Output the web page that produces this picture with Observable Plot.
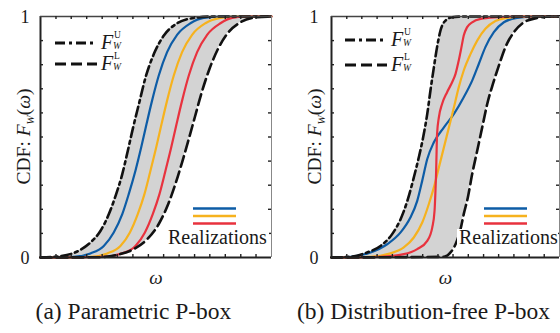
<!DOCTYPE html>
<html>
<head>
<meta charset="utf-8">
<script src="https://cdn.jsdelivr.net/npm/d3@7"></script>
<script src="https://cdn.jsdelivr.net/npm/@observablehq/plot@0.6"></script>
<style>
  html, body { margin: 0; padding: 0; background: #fff; }
  #wrap { position: relative; width: 560px; height: 333px; overflow: hidden; color: #1a1a1a;
          font-family: "Liberation Serif", "DejaVu Serif", Times, serif; }
  #wrap svg { position: absolute; top: 0; }
  .cap { position: absolute; top: 300px; font-size: 23.5px; line-height: 1; white-space: nowrap;
         transform: translateX(-50%); font-family: "Liberation Serif", "DejaVu Serif", Times, serif; }
</style>
</head>
<body>
<div id="wrap"></div>
<script>
// ---- Panel (a): parametric P-box (omega in arbitrary 0–10 units, CDF 0–1) ----
const aUpperW  = [0,0.87,1.59,2.16,2.60,2.96,3.25,3.54,3.78,4.01,4.26,4.55,4.91,5.34,5.92,6.64,7.50,10];
const aUpperF  = [0,0.006,0.025,0.062,0.111,0.180,0.256,0.346,0.443,0.540,0.637,0.748,0.845,0.921,0.972,0.994,1,1];
const aBlueW   = [0,1.44,2.16,2.74,3.17,3.54,3.82,4.11,4.36,4.59,4.83,5.12,5.48,5.92,6.49,7.07,8.00,10];
const aBlueF   = [0,0.003,0.017,0.048,0.104,0.180,0.263,0.360,0.457,0.554,0.651,0.755,0.852,0.925,0.972,0.994,1,1];
const aOrangeW = [0,2.16,2.89,3.46,3.87,4.21,4.50,4.76,5.01,5.24,5.48,5.77,6.13,6.57,7.14,7.79,8.50,10];
const aOrangeF = [0,0.003,0.017,0.048,0.104,0.180,0.263,0.360,0.457,0.554,0.651,0.755,0.852,0.925,0.972,0.994,1,1];
const aRedW    = [0,2.74,3.54,4.11,4.52,4.86,5.15,5.41,5.66,5.89,6.13,6.42,6.78,7.22,7.79,8.30,8.95,10];
const aRedF    = [0,0.003,0.017,0.048,0.104,0.180,0.263,0.360,0.457,0.554,0.651,0.755,0.852,0.925,0.972,0.994,1,1];
const aLowerW  = [0,2.45,3.32,4.04,4.62,5.12,5.53,5.84,6.13,6.42,6.68,6.96,7.29,7.65,8.08,8.66,9.38,10];
const aLowerF  = [0,0.001,0.011,0.035,0.076,0.139,0.222,0.305,0.395,0.492,0.582,0.679,0.776,0.859,0.928,0.976,0.997,1];

// ---- Panel (b): distribution-free P-box ----
const bUpperW  = [0,0.83,1.56,2.15,2.66,3.03,3.35,3.61,3.83,4.02,4.20,4.34,4.49,4.63,4.78,5.00,5.29,5.80,10];
const bUpperF  = [0,0.003,0.021,0.048,0.097,0.159,0.242,0.332,0.416,0.499,0.596,0.693,0.789,0.873,0.942,0.983,0.997,1,1];
const bLowerW  = [0,4.93,5.22,5.44,5.66,5.80,5.98,6.17,6.39,6.61,6.83,7.08,7.34,7.63,8.00,8.44,9.02,9.61,10];
const bLowerF  = [0,0.003,0.021,0.055,0.118,0.180,0.249,0.346,0.443,0.540,0.637,0.720,0.796,0.873,0.935,0.976,0.994,1,1];
const bBlueW   = [0,0.83,1.71,2.44,3.03,3.46,3.76,3.98,4.20,4.49,4.93,5.37,5.80,6.17,6.46,6.75,7.12,7.56,8.14,9.02,10];
const bBlueF   = [0,0.003,0.021,0.055,0.104,0.166,0.235,0.319,0.409,0.478,0.540,0.596,0.665,0.734,0.803,0.873,0.935,0.976,0.994,1,1];
const bOrangeW = [0,1.71,2.59,3.17,3.61,3.98,4.27,4.49,4.71,4.93,5.15,5.37,5.58,5.80,6.10,6.39,6.75,7.19,7.70,8.44,10];
const bOrangeF = [0,0.003,0.017,0.042,0.083,0.145,0.222,0.291,0.374,0.457,0.540,0.623,0.706,0.776,0.845,0.900,0.949,0.981,0.994,1,1];
const bRedW    = [0,2.15,3.17,3.76,4.20,4.42,4.52,4.56,4.59,4.61,4.63,4.71,4.85,5.07,5.29,5.44,5.58,5.70,5.80,5.95,6.17,6.54,7.27,8.14,10];
const bRedF    = [0,0.003,0.014,0.035,0.069,0.125,0.194,0.277,0.360,0.443,0.512,0.582,0.637,0.686,0.727,0.762,0.817,0.873,0.921,0.956,0.976,0.990,0.997,1,1];

// ticks and labels
const yTickLabels = [0, 1];
const xMinorTicks = [0.67,1.33,2,2.67,3.33,4,4.67,5.33,6,6.67,7.33,8,8.67,9.33];
const yMinorTicks = [0.1,0.2,0.3,0.4,0.5,0.6,0.7,0.8,0.9];
const captions = ["(a) Parametric P-box", "(b) Distribution-free P-box"];
const legendBounds = [["U", "dashdot"], ["L", "dashed"]];
const legendRealizationsLabel = "Realizations";
const xLabel = "ω";

const FONT = '"Liberation Serif", "DejaVu Serif", Times, serif';
const COL = {blue: "#0d5ca6", orange: "#f6b21e", red: "#e8323e", gray: "#d3d3d3", ink: "#1a1a1a"};
const DASHDOT = "10,4,3,4";
const DASHED = "11,5";

const pts = (W, F) => W.map((w, i) => ({w, F: F[i]}));

function panel(d, opt) {
  const W = opt.width, H = 300, mT = 16, mB = 43;
  const innerW = W - opt.mL - opt.mR, innerH = H - mT - mB;
  const curve = "monotone-x";
  const ln = (data, stroke, extra = {}) => Plot.line(data, {x: "w", y: "F", stroke, strokeWidth: 2.2, curve, ...extra});
  const svg = Plot.plot({
    width: W, height: H, marginTop: mT, marginBottom: mB, marginLeft: opt.mL, marginRight: opt.mR,
    style: {fontFamily: FONT, background: "transparent", color: COL.ink, overflow: "visible"},
    x: {domain: [0, 10], axis: null},
    y: {domain: [0, 1], axis: null},
    marks: [
      Plot.areaY(d.upper, {x: "w", y: "F", fill: COL.gray, curve}),
      Plot.areaY(d.lower, {x: "w", y: "F", fill: "white", curve}),
      ln(d.blue, COL.blue), ln(d.orange, COL.orange), ln(d.red, COL.red),
      ln(d.upper, "#111", {strokeWidth: 2.6, strokeDasharray: DASHDOT}),
      ln(d.lower, "#111", {strokeWidth: 2.6, strokeDasharray: DASHED}),
      Plot.ruleX([0], {stroke: "#222", strokeWidth: 2}),
      Plot.ruleX([10], {stroke: "#888", strokeWidth: 1}),
      Plot.ruleY([0], {stroke: "#222", strokeWidth: 2.2}),
      Plot.ruleY([1], {stroke: "#444", strokeWidth: 1.6}),
      Plot.tickX(xMinorTicks, {x: d => d, insetTop: innerH - 3, stroke: "#222", strokeWidth: 1.4}),
      Plot.tickX(xMinorTicks, {x: d => d, insetBottom: innerH - 3, stroke: "#222", strokeWidth: 1.4}),
      Plot.tickY(yMinorTicks, {y: d => d, insetRight: innerW - 3, stroke: "#222", strokeWidth: 1.4}),
      Plot.tickY(yMinorTicks, {y: d => d, insetLeft: innerW - 3, stroke: "#222", strokeWidth: 1.4}),
      Plot.axisY(yTickLabels, {tickSize: 0, tickPadding: opt.tickPad, fontSize: 18, label: null, dy: 1,
                               fill: COL.ink, tickFormat: d => String(d), fontFamily: FONT}),
      Plot.text([xLabel], {frameAnchor: "bottom", dy: 26, fontSize: 19, fontStyle: "italic", fill: COL.ink, fontFamily: FONT})
    ]
  });
  svg.style.left = opt.left + "px";
  const s = d3.select(svg);
  const g = s.append("g").attr("font-family", FONT).attr("fill", COL.ink).attr("text-anchor", "start");

  // y-axis rich label: CDF: F_W(ω)
  const t = g.append("text").attr("transform", `translate(${opt.yLabX},${mT + innerH / 2}) rotate(-90)`)
    .attr("text-anchor", "middle").attr("font-size", 19.5);
  t.append("tspan").text("CDF: ");
  t.append("tspan").attr("font-style", "italic").text("F");
  t.append("tspan").attr("font-style", "italic").attr("font-size", 11).attr("dy", 4).text("W");
  t.append("tspan").attr("dy", -4).text("(");
  t.append("tspan").attr("font-style", "italic").text("ω");
  t.append("tspan").text(")");

  // bound legend
  legendBounds.forEach(([sup, kind], i) => {
    const y = opt.legY[i];
    g.append("line").attr("x1", opt.legX).attr("x2", opt.legX + 42).attr("y1", y).attr("y2", y)
      .attr("stroke", "#111").attr("stroke-width", 2.8)
      .attr("stroke-dasharray", kind === "dashdot" ? DASHDOT : DASHED);
    const fx = opt.legX + 46;
    g.append("text").attr("x", fx).attr("y", y + 6).attr("font-size", 20).attr("font-style", "italic").text("F");
    g.append("text").attr("x", fx + 13).attr("y", y - 5).attr("font-size", 9.5).text(sup);
    g.append("text").attr("x", fx + 12).attr("y", y + 6).attr("font-size", 9.5).attr("font-style", "italic").text("W");
  });

  // realizations legend
  g.append("rect").attr("x", opt.realX - 2).attr("y", 229).attr("width", opt.realW).attr("height", 21).attr("fill", "white");
  [COL.blue, COL.orange, COL.red].forEach((c, i) => {
    const y = 208.5 + i * 7.5;
    g.append("line").attr("x1", opt.realLineX).attr("x2", opt.realLineX + 43).attr("y1", y).attr("y2", y)
      .attr("stroke", c).attr("stroke-width", 2.6);
  });
  g.append("text").attr("x", opt.realX).attr("y", 244).attr("font-size", 20).text(legendRealizationsLabel);
  return svg;
}

const wrap = document.getElementById("wrap");
wrap.appendChild(panel(
  {upper: pts(aUpperW, aUpperF), lower: pts(aLowerW, aLowerF), blue: pts(aBlueW, aBlueF),
   orange: pts(aOrangeW, aOrangeF), red: pts(aRedW, aRedF)},
  {left: 0, width: 280, mL: 40, mR: 9, tickPad: 11, yLabX: 30, legX: 55, legY: [43, 64],
   realX: 168, realW: 103, realLineX: 193}));
wrap.appendChild(panel(
  {upper: pts(bUpperW, bUpperF), lower: pts(bLowerW, bLowerF), blue: pts(bBlueW, bBlueF),
   orange: pts(bOrangeW, bOrangeF), red: pts(bRedW, bRedF)},
  {left: 280, width: 280, mL: 51, mR: 1, tickPad: 13, yLabX: 41, legX: 65, legY: [40, 65],
   realX: 179, realW: 101, realLineX: 204}));

[[133.5, captions[0]], [423.5, captions[1]]].forEach(([cx, txt]) => {
  const dv = document.createElement("div");
  dv.className = "cap"; dv.style.left = cx + "px"; dv.textContent = txt;
  wrap.appendChild(dv);
});
</script>
</body>
</html>
